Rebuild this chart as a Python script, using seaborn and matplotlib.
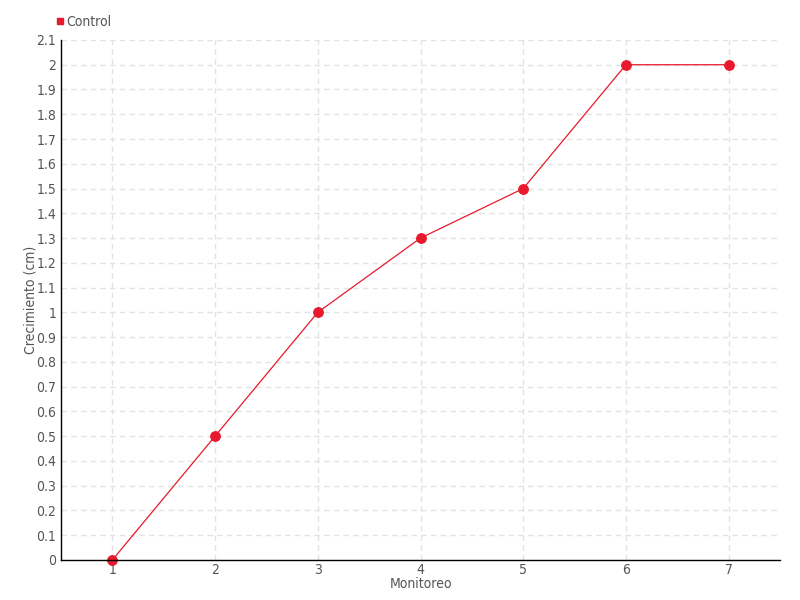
import matplotlib
matplotlib.use("Agg")
import matplotlib.pyplot as plt
from matplotlib.lines import Line2D
import numpy as np
import pandas as pd
import seaborn as sns

# data
monitoreo = [1, 2, 3, 4, 5, 6, 7]
crecimiento = [0.0, 0.5, 1.0, 1.3, 1.5, 2.0, 2.0]
y_ticks = [round(v * 0.1, 1) for v in range(22)]
y_labels = ["0" if v == 0 else f"{v:g}" for v in y_ticks]

df = pd.DataFrame({"Monitoreo": monitoreo, "Crecimiento (cm)": crecimiento, "serie": "Control"})

sns.set_style("white")
plt.rcParams["font.family"] = ["DejaVu Sans", "Liberation Sans"]
plt.rcParams["font.stretch"] = "condensed"

red = "#e8192c"
text_col = "#555555"

fig = plt.figure(figsize=(8, 6), dpi=100)
ax = fig.add_axes([0.07625, 0.0667, 0.89875, 0.8667])

sns.lineplot(data=df, x="Monitoreo", y="Crecimiento (cm)", ax=ax, color=red,
             linewidth=0.9, marker="o", markersize=7, markeredgecolor=red,
             legend=False, clip_on=False)

ax.set_xlim(0.5, 7.5)
ax.set_ylim(0, 2.1)
ax.set_xticks(monitoreo)
ax.set_xticklabels([str(m) for m in monitoreo])
ax.set_yticks(y_ticks)
ax.set_yticklabels(y_labels)

ax.grid(True, color="#e3e3e3", linestyle=(0, (4, 3)), linewidth=1)
ax.set_axisbelow(True)
for s in ["top", "right"]:
    ax.spines[s].set_visible(False)
for s in ["left", "bottom"]:
    ax.spines[s].set_color("black")
    ax.spines[s].set_linewidth(1)

ax.tick_params(axis="both", colors="#333333", labelcolor=text_col, labelsize=10,
               direction="inout", length=5, width=1, pad=1)
ax.tick_params(axis="x", pad=0)
ax.set_xlabel("Monitoreo", color=text_col, fontsize=10, labelpad=0)
ax.set_ylabel("Crecimiento (cm)", color=text_col, fontsize=10, labelpad=-1)

handle = Line2D([], [], color=red, marker="s", linestyle="none", markersize=5)
fig.legend([handle], ["Control"], loc="center left", bbox_to_anchor=(0.052, 0.963),
           frameon=False, handletextpad=0.1, handlelength=0.8, fontsize=10,
           labelcolor=text_col)

fig.savefig("out.png", dpi=100)
